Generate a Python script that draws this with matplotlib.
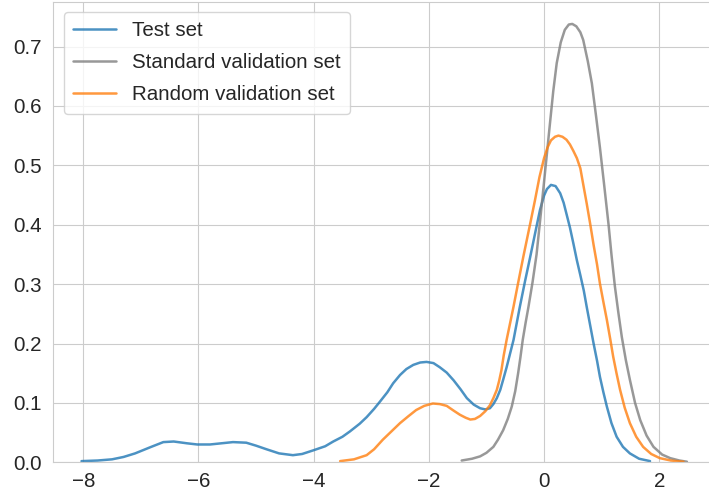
import matplotlib
matplotlib.use("Agg")
import matplotlib.pyplot as plt
import seaborn as sns

sns.set_style("whitegrid")
plt.rcParams['font.family'] = ['Liberation Sans', 'DejaVu Sans']

# --- data (density curves) ---
test_x = [-8.03, -7.75, -7.50, -7.30, -7.10, -6.82, -6.61, -6.43, -6.20, -6.02,
          -5.80, -5.60, -5.40, -5.17, -5.00, -4.82, -4.60, -4.36, -4.20, -4.01,
          -3.80, -3.66, -3.50, -3.37, -3.20, -3.08, -2.95, -2.85, -2.72, -2.62,
          -2.50, -2.39, -2.27, -2.15, -2.04, -1.92, -1.81, -1.69, -1.57, -1.45,
          -1.34, -1.22, -1.11, -1.02, -0.94, -0.88, -0.82, -0.76, -0.71, -0.65,
          -0.59, -0.53, -0.42, -0.33, -0.24, -0.15, -0.07, 0.00, 0.05, 0.12,
          0.20, 0.28, 0.34, 0.39, 0.45, 0.51, 0.57, 0.63, 0.69, 0.74,
          0.80, 0.86, 0.92, 0.97, 1.03, 1.09, 1.17, 1.26, 1.37, 1.49,
          1.65, 1.84]
test_y = [0.002, 0.003, 0.005, 0.009, 0.015, 0.026, 0.034, 0.035, 0.032, 0.030,
          0.030, 0.032, 0.034, 0.033, 0.028, 0.022, 0.015, 0.012, 0.014, 0.020,
          0.027, 0.035, 0.043, 0.052, 0.065, 0.076, 0.090, 0.102, 0.118, 0.133,
          0.147, 0.157, 0.164, 0.168, 0.169, 0.167, 0.160, 0.151, 0.138, 0.123,
          0.108, 0.097, 0.091, 0.089, 0.091, 0.098, 0.108, 0.122, 0.139, 0.160,
          0.183, 0.206, 0.262, 0.305, 0.346, 0.388, 0.425, 0.449, 0.460, 0.467,
          0.465, 0.453, 0.437, 0.418, 0.395, 0.368, 0.340, 0.315, 0.289, 0.262,
          0.231, 0.200, 0.171, 0.144, 0.118, 0.094, 0.066, 0.043, 0.026, 0.015,
          0.006, 0.002]

std_x = [-1.43, -1.25, -1.11, -1.00, -0.88, -0.80, -0.71, -0.63, -0.56, -0.50,
         -0.45, -0.41, -0.37, -0.32, -0.27, -0.20, -0.13, -0.06, 0.00, 0.05,
         0.10, 0.16, 0.22, 0.29, 0.36, 0.43, 0.49, 0.56, 0.63, 0.68,
         0.76, 0.83, 0.90, 0.97, 1.04, 1.12, 1.17, 1.23, 1.29, 1.35,
         1.42, 1.49, 1.58, 1.67, 1.78, 1.90, 2.05, 2.19, 2.35, 2.48]
std_y = [0.003, 0.006, 0.010, 0.016, 0.026, 0.038, 0.054, 0.073, 0.094, 0.120,
         0.150, 0.177, 0.206, 0.235, 0.262, 0.303, 0.350, 0.415, 0.472, 0.520,
         0.568, 0.625, 0.672, 0.707, 0.728, 0.737, 0.738, 0.734, 0.724, 0.711,
         0.675, 0.638, 0.585, 0.530, 0.470, 0.400, 0.350, 0.296, 0.252, 0.211,
         0.172, 0.139, 0.100, 0.071, 0.045, 0.026, 0.013, 0.007, 0.003, 0.001]

rnd_x = [-3.54, -3.30, -3.08, -2.95, -2.80, -2.65, -2.50, -2.35, -2.22, -2.08,
         -1.93, -1.81, -1.69, -1.57, -1.46, -1.36, -1.28, -1.20, -1.11, -1.02,
         -0.94, -0.88, -0.82, -0.78, -0.74, -0.70, -0.65, -0.59, -0.53, -0.45,
         -0.36, -0.24, -0.16, -0.08, 0.00, 0.06, 0.12, 0.19, 0.25, 0.32,
         0.39, 0.45, 0.51, 0.57, 0.63, 0.68, 0.74, 0.80, 0.86, 0.92,
         0.97, 1.03, 1.09, 1.15, 1.20, 1.26, 1.32, 1.40, 1.49, 1.60,
         1.72, 1.86, 2.01, 2.20, 2.42]
rnd_y = [0.002, 0.005, 0.012, 0.022, 0.038, 0.052, 0.066, 0.078, 0.088, 0.095,
         0.099, 0.098, 0.095, 0.087, 0.080, 0.075, 0.072, 0.073, 0.078, 0.086,
         0.096, 0.108, 0.122, 0.137, 0.155, 0.180, 0.206, 0.234, 0.262, 0.302,
         0.346, 0.402, 0.440, 0.480, 0.512, 0.530, 0.542, 0.548, 0.550, 0.548,
         0.543, 0.535, 0.524, 0.512, 0.495, 0.468, 0.436, 0.402, 0.366, 0.333,
         0.301, 0.270, 0.240, 0.207, 0.178, 0.149, 0.122, 0.092, 0.066, 0.043,
         0.026, 0.014, 0.007, 0.003, 0.001]

labels = ["Test set", "Standard validation set", "Random validation set"]
colors = ["#1f77b4", "#7f7f7f", "#ff7f0e"]

W, H = 709, 495
fig = plt.figure(figsize=(W / 100, H / 100), dpi=100)
x0, x1 = -8.52, 2.97
y0, y1 = 0.0, 0.775
left_px, bottom_px = 53.3, 462.3
ppx, ppy = 57.6, 594.0
ax = fig.add_axes([left_px / W, (H - bottom_px) / H,
                   (x1 - x0) * ppx / W, (y1 - y0) * ppy / H])

for xs, ys, lab, c in zip([test_x, std_x, rnd_x], [test_y, std_y, rnd_y], labels, colors):
    ax.plot(xs, ys, color=c, lw=1.8, alpha=0.8, label=lab,
            solid_joinstyle='round', solid_capstyle='round')

ax.set_xlim(x0, x1)
ax.set_ylim(y0, y1)
ax.set_xticks([-8, -6, -4, -2, 0, 2])
ax.set_yticks([0.0, 0.1, 0.2, 0.3, 0.4, 0.5, 0.6, 0.7])
ax.set_yticklabels(["0.0", "0.1", "0.2", "0.3", "0.4", "0.5", "0.6", "0.7"])
ax.tick_params(axis='both', labelsize=14.8, colors='#262626', length=0)
ax.tick_params(axis='x', pad=7)
ax.tick_params(axis='y', pad=8)

leg = ax.legend(loc='upper left', fontsize=14.8, handlelength=2.1,
                labelspacing=0.63, borderpad=0.45, frameon=True)

fig.savefig("out.png", dpi=100)
